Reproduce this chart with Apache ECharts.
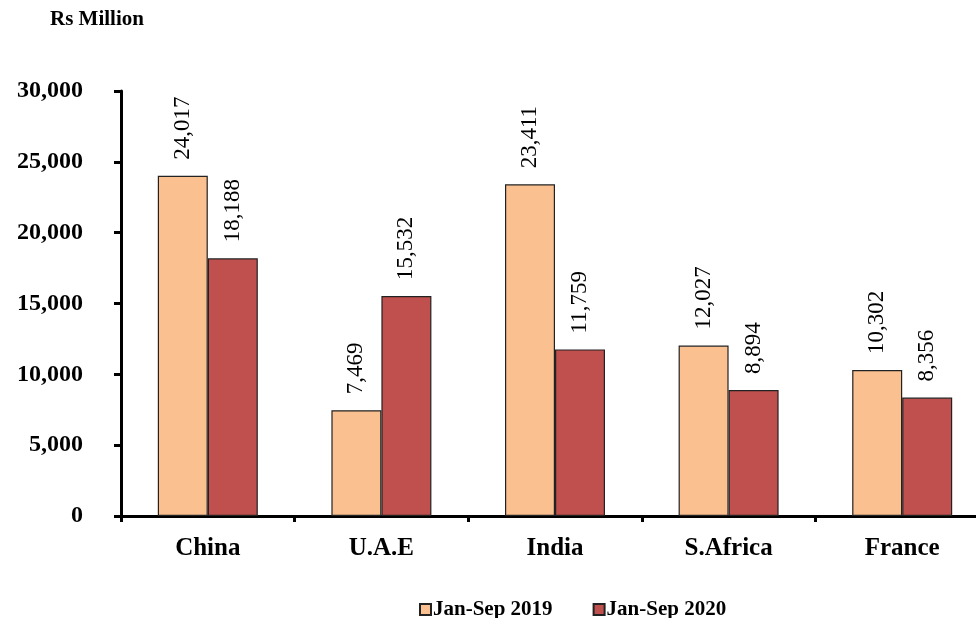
<!DOCTYPE html>
<html><head><meta charset="utf-8">
<script src="https://cdn.jsdelivr.net/npm/echarts@6/dist/echarts.min.js"></script>
<style>html,body{margin:0;padding:0;background:#fff}#c{width:976px;height:618px}</style>
</head><body><div id="c"></div>
<script>
const categories = ['China', 'U.A.E', 'India', 'S.Africa', 'France'];
const series2019 = [24017, 7469, 23411, 12027, 10302];
const series2020 = [18188, 15532, 11759, 8894, 8356];
const yTicks = [0, 5000, 10000, 15000, 20000, 25000, 30000];

const font = '"Liberation Serif", "Times New Roman", serif';
const fmt = v => v.toLocaleString('en-US');
const chart = echarts.init(document.getElementById('c'));
const labelCfg = {
  show: true, position: 'top', rotate: 90, align: 'left', verticalAlign: 'middle',
  distance: 16, fontFamily: font, fontSize: 23, color: '#000',
  formatter: p => fmt(p.value)
};
chart.setOption({
  animation: false,
  textStyle: { fontFamily: font },
  graphic: [{ type: 'text', left: 50, top: 9, style: { text: 'Rs Million', font: 'bold 21px ' + font, fill: '#000' } }],
  legend: {
    top: 594, left: 414, itemWidth: 11, itemHeight: 11, itemGap: 40,
    icon: 'rect',
    textStyle: { fontFamily: font, fontWeight: 'bold', fontSize: 21, color: '#000', padding: [0, 0, 0, -3] },
    data: ['Jan-Sep 2019', 'Jan-Sep 2020']
  },
  grid: { left: 121, width: 868, top: 91, bottom: 102, containLabel: false, outerBoundsMode: 'none' },
  xAxis: {
    type: 'category', data: categories,
    axisLine: { lineStyle: { color: '#000', width: 3 } },
    axisTick: { show: true, inside: false, length: 6, lineStyle: { width: 3, color: '#000' } },
    axisLabel: { fontFamily: font, fontWeight: 'bold', fontSize: 25, color: '#000', margin: 20 }
  },
  yAxis: {
    type: 'value', min: 0, max: 30000, interval: 5000,
    splitLine: { show: false },
    axisLine: { show: true, lineStyle: { color: '#000', width: 3 } },
    axisTick: { show: true, length: 7, lineStyle: { width: 3, color: '#000' } },
    axisLabel: { fontFamily: font, fontWeight: 'bold', fontSize: 24, color: '#000', margin: 38,
      formatter: v => yTicks.includes(v) ? fmt(v) : '' }
  },
  series: [
    { name: 'Jan-Sep 2019', type: 'bar', data: series2019, barWidth: 50, barGap: '0%',
      itemStyle: { color: '#FAC090', borderColor: '#222', borderWidth: 1.2 }, label: labelCfg },
    { name: 'Jan-Sep 2020', type: 'bar', data: series2020, barWidth: 50, barGap: '0%',
      itemStyle: { color: '#C0504D', borderColor: '#222', borderWidth: 1.2 }, label: labelCfg }
  ]
});
</script></body></html>
